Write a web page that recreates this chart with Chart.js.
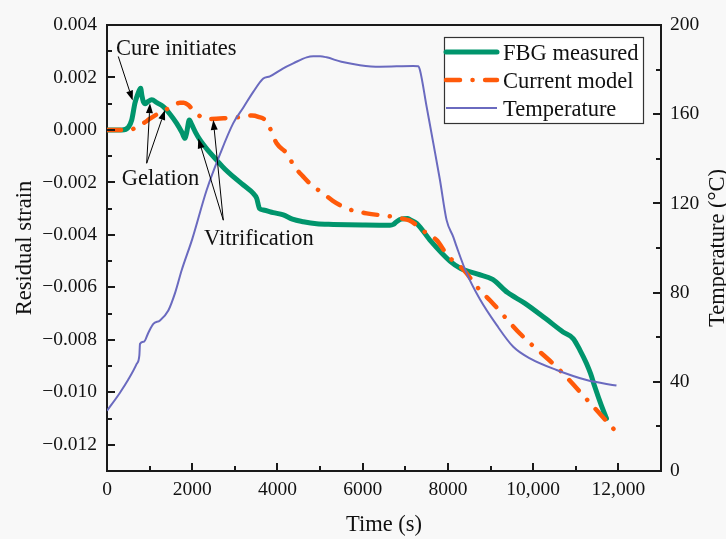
<!DOCTYPE html>
<html><head><meta charset="utf-8">
<script src="https://cdn.jsdelivr.net/npm/chart.js@4.4.1/dist/chart.umd.min.js"></script>
<style>html,body{margin:0;padding:0;background:#f8f8f8;}canvas{display:block;}</style>
</head><body>
<canvas id="c" width="726" height="539"></canvas>
<script>
// ---- data ----
const seriesNames = ['FBG measured', 'Current model', 'Temperature'];

const fbgTime = [0, 350, 500, 580, 657, 730, 790, 820, 852, 900, 960, 1048, 1180, 1321, 1480, 1635, 1760, 1830, 1870, 1931, 1990, 2080, 2182, 2380, 2573, 2770, 2963, 3200, 3432, 3511, 3580, 3667, 3900, 4136, 4350, 4605, 4919, 5310, 6000, 6639, 6720, 6795, 6900, 7050, 7120, 7265, 7600, 8047, 8300, 8700, 9050, 9400, 9800, 10300, 10700, 10939, 11100, 11252, 11350, 11447, 11600, 11721];
const fbgStrain = [0, 0, 0.0001, 0.00038, 0.00103, 0.0014, 0.00159, 0.0013, 0.00108, 0.001, 0.00108, 0.00115, 0.00103, 0.00089, 0.0006, 0.00025, -0.0001, -0.00032, -0.0001, 0.00038, 0.0002, -0.0001, -0.00038, -0.0008, -0.00115, -0.0015, -0.00178, -0.0021, -0.00242, -0.0026, -0.003, -0.00305, -0.00315, -0.00324, -0.0034, -0.0035, -0.00358, -0.0036, -0.00362, -0.00363, -0.0036, -0.0035, -0.0034, -0.00338, -0.00343, -0.00356, -0.00424, -0.005, -0.00528, -0.0055, -0.0057, -0.0062, -0.0066, -0.0072, -0.0077, -0.00795, -0.0084, -0.0089, -0.0093, -0.00979, -0.0105, -0.011];

const modelTime = [0, 540, 700, 852, 1000, 1200, 1400, 1600, 1713, 1800, 1908, 2050, 2260, 2400, 2800, 3200, 3400, 3550, 3745, 3980, 4215, 4400, 4605, 4800, 5075, 5300, 5623, 6092, 6717, 7030, 7100, 7500, 7735, 8000, 8360, 8751, 8985, 9689, 10627, 11330, 12000];
const modelStrain = [0, 0, 0.00012, 0.00025, 0.00042, 0.00062, 0.00079, 0.00097, 0.00104, 0.00104, 0.00095, 0.0007, 0.00045, 0.00042, 0.00045, 0.0005, 0.00055, 0.0005, 0.00032, -0.00051, -0.00089, -0.0014, -0.00178, -0.0021, -0.00242, -0.0027, -0.00299, -0.00318, -0.00331, -0.00342, -0.00345, -0.00394, -0.0042, -0.0048, -0.00532, -0.00611, -0.00649, -0.00776, -0.00916, -0.0104, -0.0116];

const tempTime = [0, 300, 500, 696, 760, 774, 868, 970, 1087, 1243, 1439, 1600, 1752, 2000, 2339, 2650, 2963, 3200, 3432, 3667, 3823, 4136, 4371, 4684, 4840, 5000, 5153, 5500, 5935, 6405, 7186, 7300, 7343, 7500, 7657, 7813, 7969, 8125, 8204, 8438, 8751, 9142, 9533, 9923, 10549, 11252, 11955];
const tempValue = [27, 35, 41, 48, 52, 57, 58, 62, 66, 67.5, 72, 80, 90, 104, 126, 142, 156, 163, 170, 176, 177, 180.6, 182.8, 185.5, 186, 186, 185.5, 183.5, 182, 181.3, 181.6, 181.5, 179.8, 163.4, 147, 130.5, 112.5, 105, 100.6, 88.7, 77, 65.5, 55.7, 50.5, 45.3, 40.8, 38.3];

const timeTicks = [0, 2000, 4000, 6000, 8000, 10000, 12000];
const timeTickLabels = ['0', '2000', '4000', '6000', '8000', '10,000', '12,000'];
const strainTicks = [-0.012, -0.010, -0.008, -0.006, -0.004, -0.002, 0, 0.002, 0.004];
const strainTickLabels = ['\u22120.012', '\u22120.010', '\u22120.008', '\u22120.006', '\u22120.004', '\u22120.002', '0.000', '0.002', '0.004'];
const tempTicks = [0, 40, 80, 120, 160, 200];
const tempTickLabels = ['0', '40', '80', '120', '160', '200'];

const noteTexts = ['Cure initiates', 'Gelation', 'Vitrification'];
const noteAt = [[211, 0.00286], [345, -0.0021], [2276, -0.00439]];
const arrowFrom = [[265, 0.0028], [931, -0.00127], [931, -0.00127], [2729, -0.00344], [2729, -0.00344]];
const arrowTo = [[603, 0.00112], [1009, 0.00102], [1361, 0.00076], [2142, -0.00032], [2494, 0.00038]];

// ---- styling ----
const FAM = "'Liberation Serif', 'Times New Roman', serif";
const INK = '#111111';
const AXIS = '#1a1a1a';
const GREEN = '#00956c', ORANGE = '#ff5a0a', BLUE = '#6a6abf';
const ORANGE_DASH = [14, 12.5, 0.1, 12.5];

function pts(xs, ys) { return xs.map((x, i) => ({x: x, y: ys[i]})); }
function pick(list, labels, v) {
  for (let i = 0; i < list.length; i++) if (Math.abs(list[i] - v) < 1e-9) return labels[i];
  return '';
}

const decor = {
  id: 'decor',
  beforeDraw(chart) {
    const c = chart.ctx;
    c.save(); c.fillStyle = '#f8f8f8'; c.fillRect(0, 0, chart.width, chart.height); c.restore();
  },
  afterDraw(chart) {
    const c = chart.ctx, a = chart.chartArea, sx = chart.scales.x, sy = chart.scales.y, st = chart.scales.y2;
    c.save();
    // top frame line
    c.strokeStyle = AXIS; c.lineWidth = 2;
    c.beginPath(); c.moveTo(a.left - 1, a.top); c.lineTo(a.right + 1, a.top); c.stroke();
    // inward ticks
    const tick = (scale, side) => {
      scale.ticks.forEach(tk => {
        const major = tk.label !== '' && tk.label != null;
        const len = major ? 8 : 5;
        const p = Math.round(scale.getPixelForValue(tk.value));
        c.beginPath();
        if (side === 'left') { c.moveTo(a.left, p); c.lineTo(a.left + len, p); }
        else if (side === 'right') { c.moveTo(a.right, p); c.lineTo(a.right - len, p); }
        else { c.moveTo(p, a.bottom); c.lineTo(p, a.bottom - len); }
        c.stroke();
      });
    };
    tick(sy, 'left'); tick(st, 'right'); tick(sx, 'bottom');

    // right axis title (reads bottom-to-top)
    c.fillStyle = INK; c.font = '22.5px ' + FAM;
    c.save(); c.translate(724, (a.top + a.bottom) / 2); c.rotate(-Math.PI / 2);
    c.textAlign = 'center'; c.textBaseline = 'alphabetic';
    c.fillText('Temperature (\u00B0C)', 0, 0); c.restore();

    // annotations
    c.textAlign = 'left'; c.textBaseline = 'alphabetic';
    noteTexts.forEach((t, i) => c.fillText(t, sx.getPixelForValue(noteAt[i][0]), sy.getPixelForValue(noteAt[i][1])));
    c.strokeStyle = '#000'; c.fillStyle = '#000'; c.lineWidth = 1;
    arrowFrom.forEach((f, i) => {
      const x1 = sx.getPixelForValue(f[0]), y1 = sy.getPixelForValue(f[1]);
      const x2 = sx.getPixelForValue(arrowTo[i][0]), y2 = sy.getPixelForValue(arrowTo[i][1]);
      const ang = Math.atan2(y2 - y1, x2 - x1), L = 10, W = 3.5;
      const bx = x2 - L * Math.cos(ang), by = y2 - L * Math.sin(ang);
      c.beginPath(); c.moveTo(x1, y1); c.lineTo(bx, by); c.stroke();
      c.beginPath(); c.moveTo(x2, y2);
      c.lineTo(bx + W * Math.sin(ang), by - W * Math.cos(ang));
      c.lineTo(bx - W * Math.sin(ang), by + W * Math.cos(ang));
      c.closePath(); c.fill();
    });

    // legend box
    const L0 = 444, T0 = 37, R0 = 644, B0 = 124;
    c.fillStyle = '#ffffff'; c.fillRect(L0, T0, R0 - L0, B0 - T0);
    c.strokeStyle = '#333'; c.lineWidth = 1.2; c.strokeRect(L0 + 0.5, T0 + 0.5, R0 - L0 - 1, B0 - T0 - 1);
    chart.data.datasets.forEach((ds, i) => {
      const base = 60 + i * 28, ly = base - 8;
      c.save();
      c.strokeStyle = ds.borderColor; c.lineWidth = ds.borderWidth;
      c.lineCap = ds.borderCapStyle || 'butt';
      c.setLineDash(ds.borderDash || []);
      c.beginPath(); c.moveTo(L0 + 2, ly); c.lineTo(497, ly); c.stroke();
      c.restore();
      c.fillStyle = INK; c.font = '22.5px ' + FAM; c.textAlign = 'left'; c.textBaseline = 'alphabetic';
      c.fillText(ds.label, 503, base);
    });
    c.restore();
  }
};

new Chart(document.getElementById('c'), {
  type: 'line',
  data: {
    datasets: [
      {label: seriesNames[0], data: pts(fbgTime, fbgStrain), yAxisID: 'y', borderColor: GREEN, borderWidth: 5,
       pointRadius: 0, cubicInterpolationMode: 'monotone', borderCapStyle: 'round', borderJoinStyle: 'round', order: 3},
      {label: seriesNames[1], data: pts(modelTime, modelStrain), yAxisID: 'y', borderColor: ORANGE, borderWidth: 4.5,
       borderDash: ORANGE_DASH, borderCapStyle: 'round', pointRadius: 0, cubicInterpolationMode: 'monotone', order: 2},
      {label: seriesNames[2], data: pts(tempTime, tempValue), yAxisID: 'y2', borderColor: BLUE, borderWidth: 2,
       pointRadius: 0, cubicInterpolationMode: 'monotone', order: 1}
    ]
  },
  options: {
    responsive: false, animation: false, devicePixelRatio: 1,
    layout: {padding: {top: 25, left: 0, right: 0, bottom: 0}},
    plugins: {legend: {display: false}, tooltip: {enabled: false}},
    scales: {
      x: {
        type: 'linear', position: 'bottom', min: 0, max: 13000,
        afterFit(s) { s.height = 68; },
        grid: {display: false, drawTicks: false},
        border: {display: true, color: AXIS, width: 2},
        ticks: {stepSize: 1000, autoSkip: false, maxRotation: 0, padding: 7, color: INK,
                font: {family: FAM, size: 19.5}, callback: v => pick(timeTicks, timeTickLabels, v)},
        title: {display: true, text: 'Time (s)', color: INK, font: {family: FAM, size: 22.5}, padding: {top: 0, bottom: 0}}
      },
      y: {
        type: 'linear', position: 'left', min: -0.013, max: 0.004,
        afterFit(s) { s.width = 107; },
        grid: {display: false, drawTicks: false},
        border: {display: true, color: AXIS, width: 2},
        ticks: {stepSize: 0.001, autoSkip: false, padding: 10, color: INK,
                font: {family: FAM, size: 19.5}, callback: v => pick(strainTicks, strainTickLabels, v)},
        title: {display: true, text: 'Residual strain', color: INK, font: {family: FAM, size: 22.5}, padding: {top: 12, bottom: 0}}
      },
      y2: {
        type: 'linear', position: 'right', min: 0, max: 200,
        afterFit(s) { s.width = 65; },
        grid: {display: false, drawTicks: false},
        border: {display: true, color: AXIS, width: 2},
        ticks: {stepSize: 20, autoSkip: false, padding: 9, color: INK,
                font: {family: FAM, size: 19.5}, callback: v => pick(tempTicks, tempTickLabels, v)}
      }
    }
  },
  plugins: [decor]
});
</script>
</body></html>
